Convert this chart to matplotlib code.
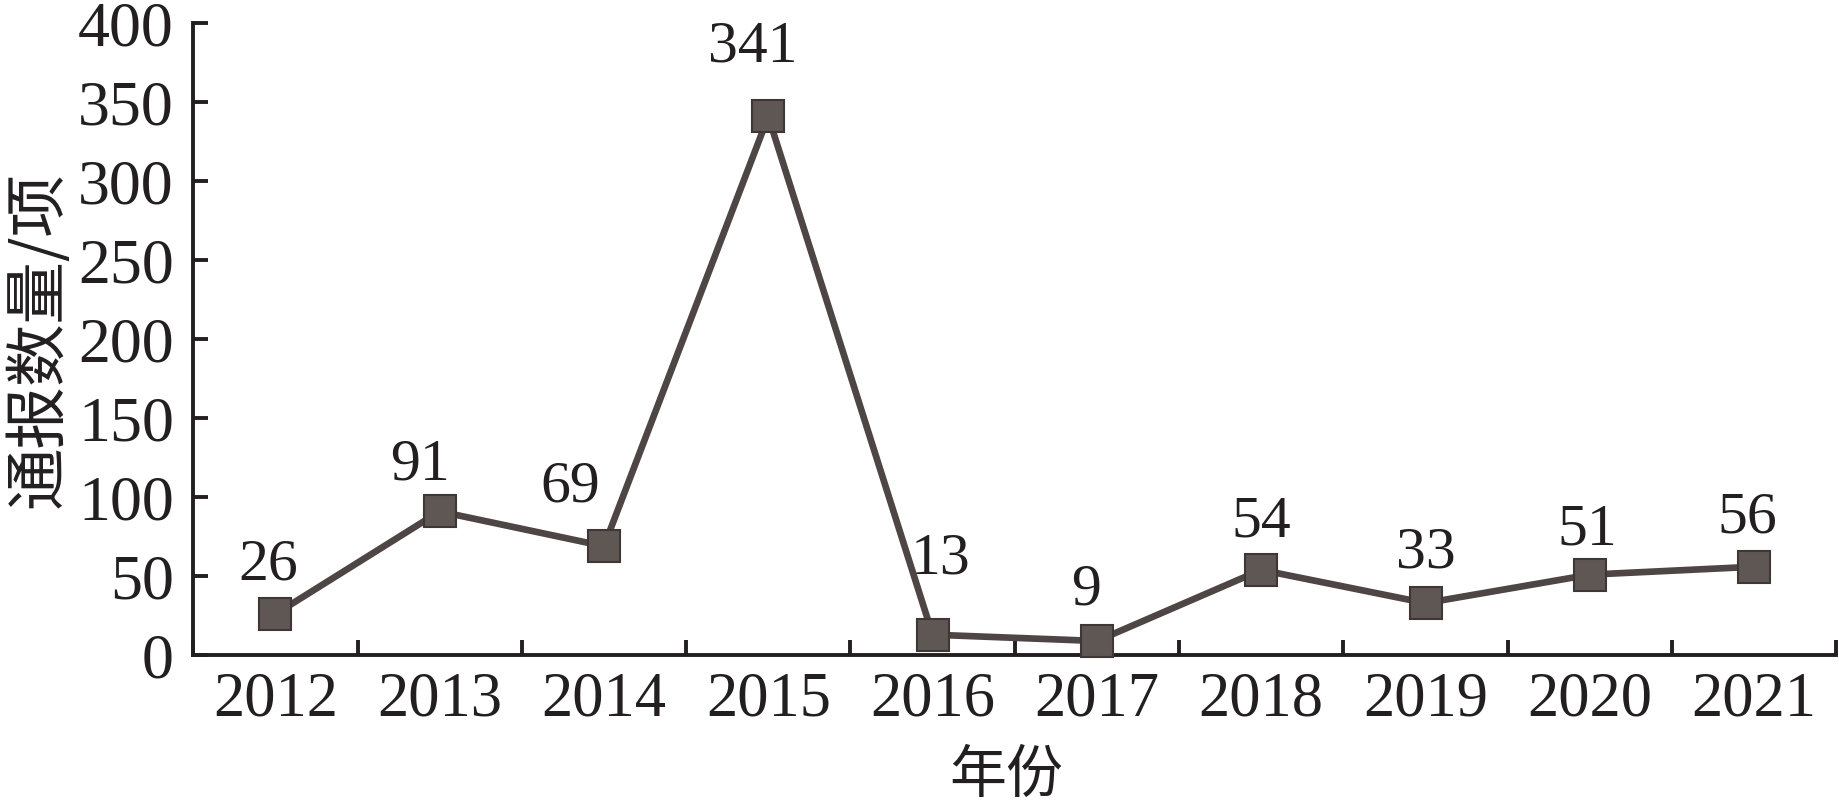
import matplotlib.pyplot as plt
import numpy as np

# data
years = ['2012', '2013', '2014', '2015', '2016', '2017', '2018', '2019', '2020', '2021']
counts = [26, 91, 69, 341, 13, 9, 54, 33, 51, 56]
yticks = [0, 50, 100, 150, 200, 250, 300, 350, 400]

# where each value label sits relative to its marker (points)
label_offsets = [(-5, 35), (-14, 33), (-24, 42), (-11, 50), (6, 54), (-8, 36), (0, 34), (0, 36), (-2, 32), (-5, 35)]

ink = '#231f20'
line_col = '#4d4644'

plt.rcParams['font.family'] = ['Liberation Serif', 'DejaVu Serif']

fig = plt.figure(figsize=(18.4, 8.01), dpi=100)
ax = fig.add_axes([0.105, 0.182, 0.893, 0.789])

x = np.arange(len(years))
ax.plot(x, counts, color=line_col, lw=4.8, marker='s', markersize=23,
        markerfacecolor='#5e5754', markeredgecolor='#3e3735', markeredgewidth=1.5,
        clip_on=False, zorder=3)

for xi, v, (dx, dy) in zip(x, counts, label_offsets):
    ax.annotate(str(v), (xi, v), xytext=(dx, dy), textcoords='offset points',
                ha='center', va='center', fontsize=43, color=ink)

ax.set_xlim(-0.5, len(years) - 0.5)
ax.set_ylim(0, 400)
ax.set_yticks(yticks)
ax.set_xticks(x)
ax.set_xticklabels(years)
ax.set_xticks(np.arange(-0.5, len(years)), minor=True)

ax.tick_params(axis='x', which='major', length=0, pad=12, labelsize=45, labelcolor=ink)
ax.tick_params(axis='x', which='minor', direction='in', length=11, width=2.8, color=ink)
ax.tick_params(axis='y', direction='in', length=11, width=2.8, color=ink, pad=14,
               labelsize=46, labelcolor=ink)

for side in ['top', 'right']:
    ax.spines[side].set_visible(False)
for side in ['left', 'bottom']:
    ax.spines[side].set_linewidth(2.8)
    ax.spines[side].set_color(ink)

cjk = ['Noto Sans CJK SC', 'DejaVu Sans']
ax.set_ylabel('通报数量/项', family=cjk, fontsize=45, color=ink, va='center')
ax.yaxis.set_label_coords(-0.094, 0.5)
ax.set_xlabel('年份', family=cjk, fontsize=41, color=ink, va='center')
ax.xaxis.set_label_coords(0.495, -0.19)

plt.savefig('out.png', dpi=100)
